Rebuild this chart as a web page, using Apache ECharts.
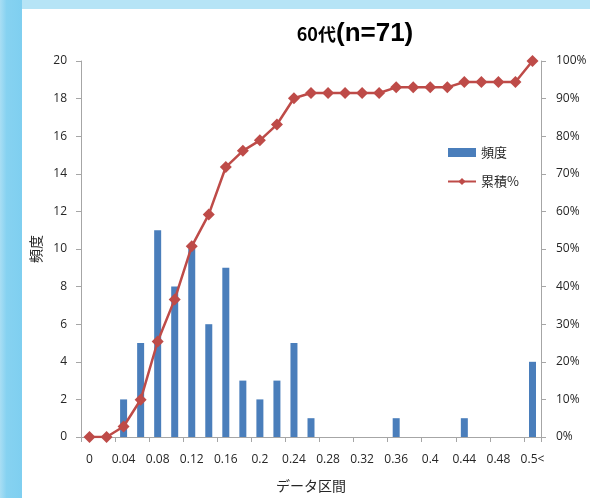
<!DOCTYPE html>
<html>
<head>
<meta charset="utf-8">
<script src="https://cdn.jsdelivr.net/npm/echarts@6/dist/echarts.min.js"></script>
<style>
  html, body { margin: 0; padding: 0; }
  #chart { width: 590px; height: 498px; }
</style>
</head>
<body>
<div id="chart"></div>
<script>
// Bin labels (upper bound of each interval), last bin is the open-ended one
const categories = ['0', '0.02', '0.04', '0.06', '0.08', '0.1', '0.12', '0.14', '0.16', '0.18',
  '0.2', '0.22', '0.24', '0.26', '0.28', '0.3', '0.32', '0.34', '0.36', '0.38',
  '0.4', '0.42', '0.44', '0.46', '0.48', '0.5', '0.5<'];

// Count of respondents per bin
const frequency = [0, 0, 2, 5, 11, 8, 10, 6, 9, 3, 2, 3, 5, 1, 0, 0, 0, 0, 1, 0, 0, 0, 1, 0, 0, 0, 4];

// Running total in percent
const cumulative = [0, 0, 2.8, 9.9, 25.4, 36.6, 50.7, 59.2, 71.8, 76.1, 78.9, 83.1, 90.1, 91.5,
  91.5, 91.5, 91.5, 91.5, 93.0, 93.0, 93.0, 93.0, 94.4, 94.4, 94.4, 94.4, 100];

const leftTicks = { min: 0, max: 20, interval: 2 };
const rightTicks = { min: 0, max: 100, interval: 10 };

const NUM_FONT = '"Open Sans", "Noto Sans", sans-serif';
const JP_FONT = '"Noto Sans CJK JP", sans-serif';
const TEXT = '#262626';
const AXIS = '#a6a6a6';

const chart = echarts.init(document.getElementById('chart'), null, { renderer: 'canvas' });

chart.setOption({
  backgroundColor: '#b6e4f6',
  animation: false,
  graphic: [
    {
      type: 'rect', z: -10, silent: true,
      shape: { x: 0, y: 0, width: 22, height: 498 },
      style: {
        fill: new echarts.graphic.LinearGradient(0, 0, 1, 0, [
          { offset: 0, color: '#a9def4' },
          { offset: 0.3, color: '#86d2f1' },
          { offset: 1, color: '#7fcff0' }
        ])
      }
    },
    {
      type: 'rect', z: -10, silent: true,
      shape: { x: 22, y: 9, width: 568, height: 489 },
      style: { fill: '#ffffff' }
    }
  ],
  title: {
    text: '{a|60代}{b|(n=71)}',
    left: 350,
    textAlign: 'center',
    top: 16,
    textStyle: {
      rich: {
        a: { fontFamily: JP_FONT, fontSize: 18, fontWeight: 'bold', color: '#000' },
        b: { fontFamily: '"Liberation Sans", Arial, sans-serif', fontSize: 26, fontWeight: 'bold', color: '#000' }
      }
    }
  },
  legend: {
    orient: 'vertical',
    left: 442,
    top: 141,
    itemGap: 16,
    itemWidth: 28,
    itemHeight: 9,
    textStyle: { fontFamily: JP_FONT, fontSize: 13, color: TEXT },
    data: [
      { name: '頻度', icon: 'rect' },
      { name: '累積%' }
    ]
  },
  grid: { left: 81, right: 49, top: 61, bottom: 57, containLabel: false },
  xAxis: {
    type: 'category',
    data: categories,
    boundaryGap: true,
    name: 'データ区間',
    nameLocation: 'middle',
    nameGap: 42,
    nameTextStyle: { fontFamily: JP_FONT, fontSize: 14, color: TEXT },
    axisLine: { lineStyle: { color: AXIS } },
    axisTick: { show: true, length: 5, lineStyle: { color: AXIS } },
    axisLabel: { interval: 1, margin: 17, fontFamily: NUM_FONT, fontSize: 12, color: TEXT }
  },
  yAxis: [
    {
      type: 'value',
      min: leftTicks.min, max: leftTicks.max, interval: leftTicks.interval,
      name: '頻度',
      nameLocation: 'middle',
      nameRotate: 90,
      nameGap: 37,
      nameTextStyle: { fontFamily: JP_FONT, fontSize: 14, color: TEXT },
      splitLine: { show: false },
      axisLine: { show: true, lineStyle: { color: AXIS } },
      axisTick: { show: true, length: 5, lineStyle: { color: AXIS } },
      axisLabel: { margin: 14, fontFamily: NUM_FONT, fontSize: 12, color: TEXT }
    },
    {
      type: 'value',
      position: 'right',
      min: rightTicks.min, max: rightTicks.max, interval: rightTicks.interval,
      splitLine: { show: false },
      axisLine: { show: true, lineStyle: { color: AXIS } },
      axisTick: { show: true, length: 5, lineStyle: { color: AXIS } },
      axisLabel: { margin: 15, fontFamily: NUM_FONT, fontSize: 12, color: TEXT, formatter: '{value}%' }
    }
  ],
  series: [
    {
      name: '頻度',
      type: 'bar',
      yAxisIndex: 0,
      data: frequency,
      barWidth: 7,
      itemStyle: { color: '#4a7ebb' }
    },
    {
      name: '累積%',
      type: 'line',
      yAxisIndex: 1,
      data: cumulative,
      symbol: 'diamond',
      symbolSize: 12,
      showAllSymbol: true,
      lineStyle: { color: '#be4b48', width: 2.5 },
      itemStyle: { color: '#be4b48' },
      z: 3
    }
  ]
});
</script>
</body>
</html>
